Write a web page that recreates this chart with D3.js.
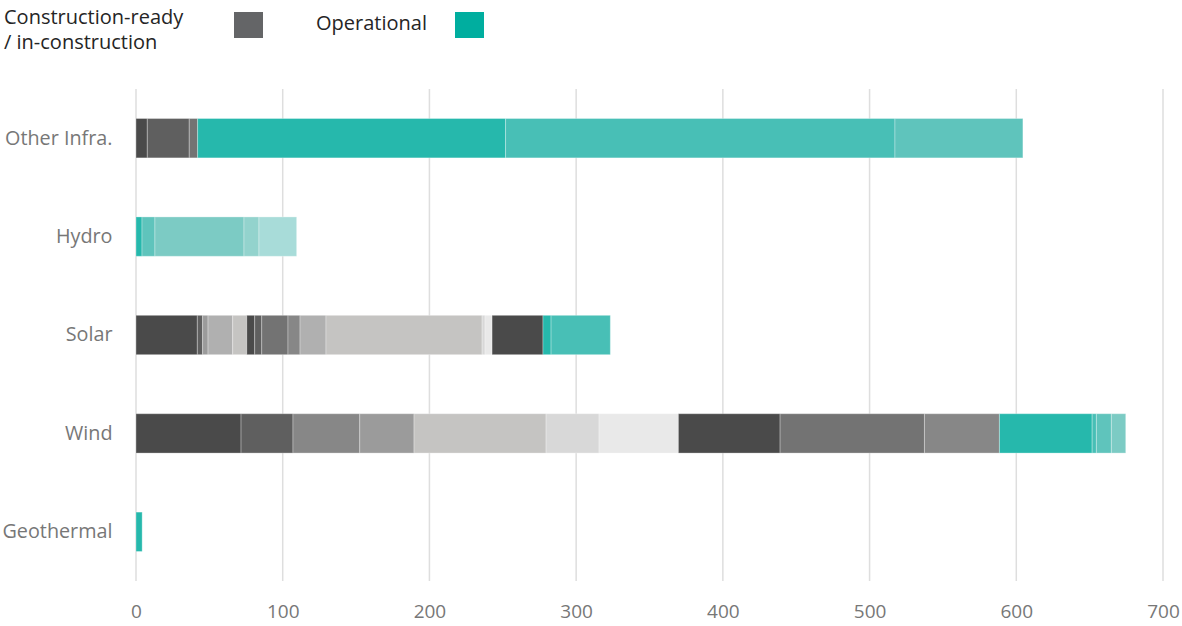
<!DOCTYPE html>
<html>
<head>
<meta charset="utf-8">
<script src="https://cdn.jsdelivr.net/npm/d3@7"></script>
<style>
  html, body { margin: 0; padding: 0; background: #fff; }
  svg { display: block; font-family: "Open Sans", "Noto Sans", sans-serif; }
</style>
</head>
<body>
<svg id="chart" width="1182" height="626"></svg>
<script>
// ---- data ----
const categories = ["Other Infra.", "Hydro", "Solar", "Wind", "Geothermal"];

// stacked segment groups (c* = construction-ready / in-construction groups, o* = operational groups)
const otherInfraKeys   = ["c1", "c2", "c3", "o1", "o2", "o3"];
const otherInfraValues = [7.7, 28.6, 5.7, 209.9, 265.4, 87.2];

const hydroKeys   = ["o1", "o3", "o4", "o5", "o6"];
const hydroValues = [4.1, 8.8, 60.7, 10.2, 25.7];

const solarKeys   = ["c1", "c2", "c5", "c6", "c7", "c1", "c2", "c3", "c4", "c6", "c7", "c8", "c9", "c1", "o1", "o2"];
const solarValues = [41.8, 3.6, 3.7, 16.8, 9.6, 5.4, 4.8, 17.9, 8.2, 17.7, 106.4, 2.0, 4.8, 34.7, 5.5, 40.4];

const windKeys   = ["c1", "c2", "c4", "c5", "c7", "c8", "c9", "c1", "c3", "c4", "o1", "o2", "o3", "o4"];
const windValues = [71.6, 35.4, 45.5, 37.0, 90.0, 36.1, 54.1, 69.3, 98.4, 51.1, 63.2, 2.9, 10.2, 9.8];

const geothermalKeys   = ["o1"];
const geothermalValues = [4.2];

const xTicks = [0, 100, 200, 300, 400, 500, 600, 700];
const legendLabels = [["Construction-ready", "/ in-construction"], ["Operational"]];

// ---- build segments ----
const groups = [
  [otherInfraKeys, otherInfraValues],
  [hydroKeys, hydroValues],
  [solarKeys, solarValues],
  [windKeys, windValues],
  [geothermalKeys, geothermalValues]
];
const segments = [];
groups.forEach(([keys, vals], i) => {
  let acc = 0;
  vals.forEach((v, j) => {
    segments.push({ cat: categories[i], key: keys[j], x0: acc, x1: acc + v });
    acc += v;
  });
});

const shadeKeys = ["c1","c2","c3","c4","c5","c6","c7","c8","c9","o1","o2","o3","o4","o5","o6"];
const color = d3.scaleOrdinal()
  .domain(shadeKeys)
  .range(["#4a4a4a","#5f5f5f","#737373","#878787","#9b9b9b","#b0b0b0","#c5c4c2","#d8d8d8","#e9e9e9",
          "#26b8ac","#48bfb6","#5fc4bc","#7ccbc4","#93d3cd","#a8dcd9"]);

// ---- layout ----
const svg = d3.select("#chart");
const x = d3.scaleLinear().domain([0, 700]).range([136, 1163]);
const y = d3.scaleBand().domain(categories).range([89, 581]).paddingInner(0.6).paddingOuter(0.3);

// gridlines
svg.append("g").selectAll("line").data(xTicks).join("line")
  .attr("x1", d => x(d)).attr("x2", d => x(d))
  .attr("y1", 89).attr("y2", 581)
  .attr("stroke", "#dedede").attr("stroke-width", 1.5);

// bars
svg.append("g").selectAll("rect").data(segments).join("rect")
  .attr("x", d => x(d.x0))
  .attr("width", d => x(d.x1) - x(d.x0))
  .attr("y", d => y(d.cat))
  .attr("height", y.bandwidth())
  .attr("fill", d => color(d.key))
  .attr("stroke", "rgba(255,255,255,0.3)")
  .attr("stroke-width", 1);

// x axis labels
const xAxis = d3.axisBottom(x).tickValues(xTicks).tickSize(0).tickPadding(0).tickFormat(d3.format("d"));
const xg = svg.append("g").attr("transform", "translate(0,604)").call(xAxis);
xg.select(".domain").remove();
xg.selectAll("text").attr("fill", "#777").style("font-size", "19px").style("font-family", "'Open Sans', sans-serif");

// y axis labels
const yAxis = d3.axisLeft(y).tickSize(0).tickPadding(0);
const yg = svg.append("g").attr("transform", "translate(112.5,0)").call(yAxis);
yg.select(".domain").remove();
yg.selectAll("text").attr("fill", "#777").style("font-size", "19.8px").style("font-family", "'Open Sans', sans-serif");

// legend
const leg = svg.append("g");
const t1 = leg.append("text").attr("x", 4).attr("y", 24).attr("fill", "#252525").style("font-size", "20px");
t1.append("tspan").attr("x", 4).attr("dy", 0).text(legendLabels[0][0]);
t1.append("tspan").attr("x", 4).attr("dy", 25).text(legendLabels[0][1]);
leg.append("rect").attr("x", 234).attr("y", 12).attr("width", 29).attr("height", 26).attr("fill", "#646567");
leg.append("text").attr("x", 316).attr("y", 30).attr("fill", "#252525").style("font-size", "20px").text(legendLabels[1][0]);
leg.append("rect").attr("x", 455).attr("y", 12).attr("width", 29).attr("height", 26).attr("fill", "#00ae9f");
</script>
</body>
</html>
